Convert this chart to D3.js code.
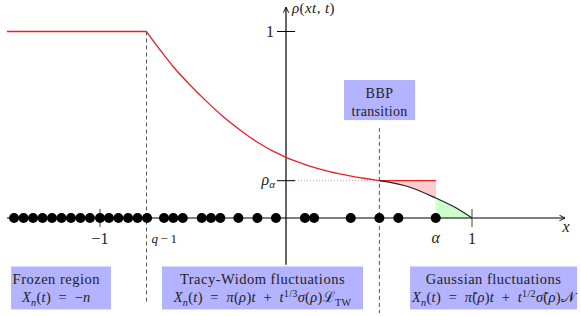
<!DOCTYPE html>
<html>
<head>
<meta charset="utf-8">
<script src="https://cdn.jsdelivr.net/npm/d3@7"></script>
<style>
  body { margin: 0; background: #fff; }
  svg { display: block; }
</style>
</head>
<body>
<svg id="chart" width="581" height="316"></svg>
<script>
// particle positions on the line (in units of x)
var dotX = [-1.462, -1.411, -1.360, -1.309, -1.258, -1.207, -1.156, -1.105, -1.054, -1.000,
            -0.952, -0.901, -0.849, -0.798, -0.747, -0.656, -0.606, -0.555, -0.453, -0.403,
            -0.353, -0.256, -0.154, -0.054, 0.102, 0.151, 0.348, 0.502, 0.604, 0.805];

// density curve rho(xt,t)
var redX = [-0.75, -0.677, -0.606, -0.516, -0.426, -0.337, -0.247, -0.158, 0.0, 0.111, 0.290, 0.502];
var redY = [1.0, 0.901, 0.811, 0.713, 0.624, 0.543, 0.472, 0.409, 0.325, 0.284, 0.236, 0.2];
var blackX = [0.502, 0.667, 0.805, 0.918, 1.0];
var blackY = [0.2, 0.165, 0.107, 0.052, 0.0];

var qMinus1 = -0.75, bbpX = 0.502, alphaX = 0.805, rhoAlpha = 0.2;

var fontFam = "Liberation Serif, DejaVu Serif, serif";

var x = d3.scaleLinear().domain([-1.5, 1.5]).range([7, 565]);
var y = d3.scaleLinear().domain([0, 1]).range([218, 31.5]);

var svg = d3.select("#chart");

svg.append("defs").append("marker")
    .attr("id", "arr")
    .attr("viewBox", "0 0 10 10")
    .attr("refX", 9).attr("refY", 5)
    .attr("markerWidth", 7).attr("markerHeight", 7)
    .attr("markerUnits", "userSpaceOnUse")
    .attr("orient", "auto")
    .append("path")
    .attr("d", "M1,1 L9,5 L1,9")
    .attr("fill", "none").attr("stroke", "#000").attr("stroke-width", 1.3);

var red = redX.map(function(d, i) { return [d, redY[i]]; });
var black = blackX.map(function(d, i) { return [d, blackY[i]]; });

var line = d3.line()
    .x(function(d) { return x(d[0]); })
    .y(function(d) { return y(d[1]); })
    .curve(d3.curveMonotoneX);

// shaded bits: BBP..alpha (red) and alpha..1 (green)
var area = d3.area()
    .x(function(d) { return x(d[0]); })
    .y0(function(d) { return y(d[2]); })
    .y1(function(d) { return y(d[1]); })
    .curve(d3.curveMonotoneX);

var iA = blackX.indexOf(alphaX);
var redShade = black.slice(0, iA + 1).map(function(d) { return [d[0], d[1], rhoAlpha]; });
var greenShade = black.slice(iA).map(function(d) { return [d[0], d[1], 0]; });

svg.append("path").attr("d", area(redShade)).attr("fill", "#ffcccc");
svg.append("path").attr("d", area(greenShade)).attr("fill", "#ccffcc");

// dotted guides
svg.append("line")
    .attr("x1", x(0)).attr("x2", x(bbpX))
    .attr("y1", y(rhoAlpha)).attr("y2", y(rhoAlpha))
    .attr("stroke", "#c89090").attr("stroke-width", 0.9)
    .attr("stroke-dasharray", "1,2");
svg.append("line")
    .attr("x1", x(alphaX)).attr("x2", x(alphaX))
    .attr("y1", y(rhoAlpha)).attr("y2", y(blackY[iA]))
    .attr("stroke", "#f0a0a0").attr("stroke-width", 0.8)
    .attr("stroke-dasharray", "1,2");

// dashed verticals
svg.append("line")
    .attr("x1", x(qMinus1)).attr("x2", x(qMinus1))
    .attr("y1", y(1)).attr("y2", y(-0.45))
    .attr("stroke", "#555").attr("stroke-width", 1)
    .attr("stroke-dasharray", "4,3");
svg.append("line")
    .attr("x1", x(bbpX)).attr("x2", x(bbpX))
    .attr("y1", y(0.483)).attr("y2", y(-0.51))
    .attr("stroke", "#555").attr("stroke-width", 1)
    .attr("stroke-dasharray", "4,3");

// axes
svg.append("line")
    .attr("x1", x(-1.5)).attr("x2", x(1.5))
    .attr("y1", y(0)).attr("y2", y(0))
    .attr("stroke", "#000").attr("stroke-width", 1.2)
    .attr("marker-end", "url(#arr)");
svg.append("line")
    .attr("x1", x(0)).attr("x2", x(0))
    .attr("y1", y(-0.25)).attr("y2", y(1.13))
    .attr("stroke", "#000").attr("stroke-width", 1.2)
    .attr("marker-end", "url(#arr)");

// ticks
[-1, 1].forEach(function(v) {
    svg.append("line")
        .attr("x1", x(v)).attr("x2", x(v))
        .attr("y1", y(0) - 9).attr("y2", y(0) + 9)
        .attr("stroke", "#444").attr("stroke-width", 1);
});
[1, rhoAlpha].forEach(function(v) {
    svg.append("line")
        .attr("x1", x(0) - 9).attr("x2", x(0) + 9)
        .attr("y1", y(v)).attr("y2", y(v))
        .attr("stroke", "#000").attr("stroke-width", 1);
});

// curves
svg.append("line")
    .attr("x1", x(-1.5)).attr("x2", x(qMinus1))
    .attr("y1", y(1)).attr("y2", y(1))
    .attr("stroke", "#ee1c25").attr("stroke-width", 1.3);
svg.append("path").attr("d", line(red))
    .attr("fill", "none").attr("stroke", "#ee1c25").attr("stroke-width", 1.3);
svg.append("line")
    .attr("x1", x(bbpX)).attr("x2", x(alphaX))
    .attr("y1", y(rhoAlpha)).attr("y2", y(rhoAlpha))
    .attr("stroke", "#ee1c25").attr("stroke-width", 1.3);
svg.append("path").attr("d", line(black))
    .attr("fill", "none").attr("stroke", "#222").attr("stroke-width", 1.2);

// particles
svg.selectAll(".dot")
    .data(dotX)
    .enter().append("circle")
    .attr("class", "dot")
    .attr("cx", function(d) { return x(d); })
    .attr("cy", y(0))
    .attr("r", 5)
    .attr("fill", "#000");

// math text helper: segs = [[text, style]] with style i / r / si / sr / pr
function mathText(g, px, py, segs, size, anchor, spacing) {
    var t = g.append("text")
        .attr("x", px).attr("y", py)
        .attr("text-anchor", anchor || "middle")
        .attr("font-family", fontFam)
        .attr("font-size", size)
        .attr("letter-spacing", spacing || 0)
        .attr("fill", "#222");
    var cur = 0;
    segs.forEach(function(s) {
        var st = s[1];
        var target = st.charAt(0) == "s" ? 0.22 * size : (st.charAt(0) == "p" ? -0.38 * size : 0);
        var sp = t.append("tspan").attr("dy", target - cur).text(s[0]);
        cur = target;
        if (st.charAt(st.length - 1) == "i") sp.attr("font-style", "italic");
        if (st.length > 1) sp.attr("font-size", size * 0.7);
    });
    return t;
}

var EQ = "\u2002=\u2002", PL = "\u2002+\u2002";

// axis labels
mathText(svg, x(0) - 12, y(1) + 5, [["1", "r"]], 16, "end");
mathText(svg, x(0) - 11, y(rhoAlpha) + 4, [["ρ", "i"], ["α", "si"]], 16, "end");
mathText(svg, x(-1), 244, [["−1", "r"]], 16);
mathText(svg, x(qMinus1) + 5, 243, [["q", "i"], ["\u2009−\u20091", "r"]], 13, "start");
mathText(svg, x(alphaX), 243, [["α", "i"]], 16);
mathText(svg, x(1), 244, [["1", "r"]], 16);
mathText(svg, 566, 232, [["x", "i"]], 16);
mathText(svg, x(0) + 6, 13, [["ρ", "i"], ["(", "r"], ["xt", "i"], [", ", "r"], ["t", "i"], [")", "r"]], 15, "start", 0.4);

// annotation boxes (tx = text centre, where it is not the box centre)
var boxes = [
    {x0: -1.478, x1: -0.941, y0: -0.26, y1: -0.49, tx: -1.235,
     lines: [[["Frozen region", "r"]],
             [["X", "i"], ["n", "si"], ["(", "r"], ["t", "i"], [")" + EQ + "−", "r"], ["n", "i"]]]},
    {x0: -0.667, x1: 0.414, y0: -0.26, y1: -0.49,
     lines: [[["Tracy-Widom fluctuations", "r"]],
             [["X", "i"], ["n", "si"], ["(", "r"], ["t", "i"], [")" + EQ, "r"], ["π", "i"], ["(", "r"], ["ρ", "i"], [")", "r"], ["t", "i"],
              [PL, "r"], ["t", "i"], ["1/3", "pr"], ["σ", "i"], ["(", "r"], ["ρ", "i"], [")", "r"], ["ℒ", "r"], ["TW", "sr"]]]},
    {x0: 0.667, x1: 1.565, y0: -0.26, y1: -0.49,
     lines: [[["Gaussian fluctuations", "r"]],
             [["X", "i"], ["n", "si"], ["(", "r"], ["t", "i"], [")" + EQ, "r"], ["π̃", "i"], ["(", "r"], ["ρ", "i"], [")", "r"], ["t", "i"],
              [PL, "r"], ["t", "i"], ["1/2", "pr"], ["σ̃", "i"], ["(", "r"], ["ρ", "i"], [")", "r"], ["𝒩", "r"]]]},
    {x0: 0.312, x1: 0.694, y0: 0.74, y1: 0.525,
     lines: [[["BBP", "r"]], [["transition", "r"]]]}
];

boxes.forEach(function(b) {
    svg.append("rect")
        .attr("x", x(b.x0)).attr("y", y(b.y0))
        .attr("width", x(b.x1) - x(b.x0))
        .attr("height", y(b.y1) - y(b.y0))
        .attr("fill", "#b3b3ff");
    var cx = b.tx != null ? x(b.tx) : (x(b.x0) + x(b.x1)) / 2;
    var top = y(b.y0);
    var h = y(b.y1) - y(b.y0);
    var isBBP = b.lines[0][0][0] == "BBP";
    var fs = isBBP ? 14 : 14.5;
    var shift = isBBP ? 4 : 2;
    mathText(svg, cx, top + h * 0.36 + shift, b.lines[0], fs, "middle", 0.5);
    mathText(svg, cx, top + h * 0.79 + shift, b.lines[1], fs, "middle", 0.3);
});
</script>
</body>
</html>
